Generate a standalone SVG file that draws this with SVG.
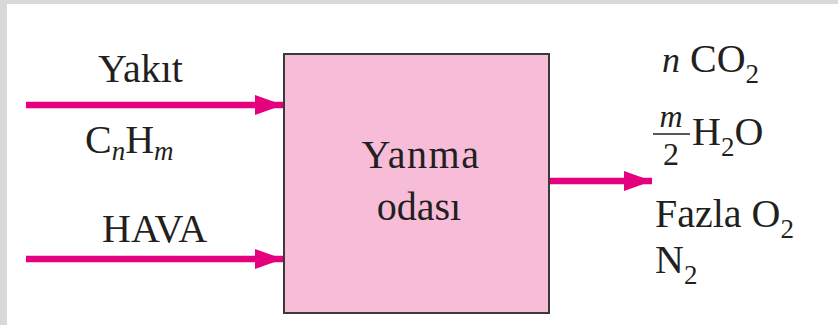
<svg xmlns="http://www.w3.org/2000/svg" width="838" height="325" viewBox="0 0 838 325">
<style>
text{font-family:"Times New Roman","Liberation Serif",Tinos,serif;fill:#231f20}
.ar{stroke:#e5007d;stroke-width:6.5;fill:none}
</style>
<defs>
<marker id="ah" markerUnits="userSpaceOnUse" markerWidth="30" markerHeight="20" refX="28" refY="10" orient="auto">
<path d="M0,0 L28,10 L0,20 Z" fill="#e5007d"/>
</marker>
</defs>
<rect x="0" y="0" width="838" height="325" fill="#ffffff"/>
<rect x="0" y="0" width="838" height="4" fill="#d9d9d9"/>
<rect x="0" y="0" width="7" height="325" fill="#d9d9d9"/>
<g id="connectors">
<line class="ar" x1="26" y1="105" x2="283" y2="105" marker-end="url(#ah)"/>
<line class="ar" x1="26" y1="259" x2="283" y2="259" marker-end="url(#ah)"/>
<line class="ar" x1="550" y1="181" x2="652" y2="181" marker-end="url(#ah)"/>
</g>
<g id="chamber">
<rect x="284" y="54" width="265" height="259" fill="#f7bdd8" stroke="#3a3a3a" stroke-width="2"/>
<text font-size="40" x="421" y="168" text-anchor="middle" letter-spacing="1.5">Yanma</text>
<text font-size="40" x="419" y="220" text-anchor="middle">odası</text>
</g>
<g id="fuel">
<text font-size="40" x="98" y="82">Yakıt</text>
<text font-size="40" x="85" y="153">C<tspan font-size="27" font-style="italic" dy="7">n</tspan><tspan dy="-7">H</tspan><tspan font-size="27" font-style="italic" dy="7">m</tspan></text>
</g>
<g id="air">
<text font-size="40" x="102" y="242">HAVA</text>
</g>
<g id="products">
<text font-size="40" x="662" y="72"><tspan font-style="italic" font-size="36">n</tspan> CO<tspan font-size="27" dy="11">2</tspan></text>
<text font-size="32" font-style="italic" x="671" y="127" text-anchor="middle">m</text>
<line x1="653" y1="134" x2="690" y2="134" stroke="#231f20" stroke-width="1.6"/>
<text font-size="32" x="671" y="165" text-anchor="middle">2</text>
<text font-size="40" x="692" y="145">H<tspan font-size="27" dy="11">2</tspan><tspan dy="-11">O</tspan></text>
<text font-size="40" x="655" y="227">Fazla O<tspan font-size="27" dy="11">2</tspan></text>
<text font-size="40" x="655" y="273">N<tspan font-size="27" dy="11">2</tspan></text>
</g>
</svg>
